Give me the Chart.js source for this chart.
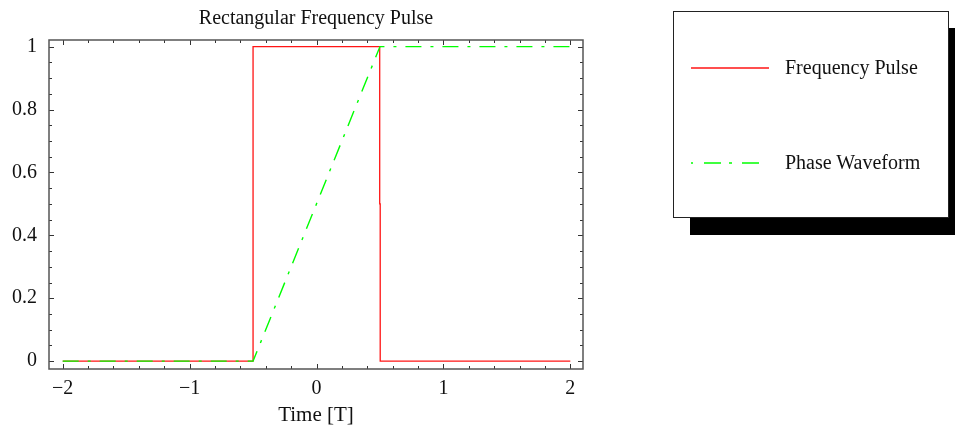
<!DOCTYPE html>
<html>
<head>
<meta charset="utf-8">
<script src="https://cdn.jsdelivr.net/npm/chart.js@4/dist/chart.umd.min.js"></script>
<style>
  html, body { margin: 0; padding: 0; background: #fff; overflow: hidden; }
  #wrap { position: relative; width: 955px; height: 426px; overflow: hidden; }
  #plot { position: absolute; left: 0; top: 0; }
  #legend {
    position: absolute; left: 673px; top: 11px; width: 274px; height: 205px;
    border: 1px solid #222; background: #fff; box-shadow: 17px 17px 0 #000;
  }
  #legend svg { position: absolute; left: 0; top: 0; }
  #legend text { font-family: "Liberation Serif", "DejaVu Serif", serif; font-size: 20px; fill: #111; }
</style>
</head>
<body>
<div id="wrap">
  <canvas id="plot" width="955" height="426"></canvas>
  <div id="legend">
    <svg width="274" height="205">
      <line x1="17" y1="56" x2="95" y2="56" stroke="rgb(255,20,20)" stroke-width="1.3"></line>
      <text x="111" y="62">Frequency Pulse</text>
      <line x1="17" y1="151" x2="95" y2="151" stroke="rgb(0,255,0)" stroke-width="1.5" stroke-dasharray="2 11 17 8 3 10 17 20"></line>
      <text x="111" y="157">Phase Waveform</text>
    </svg>
  </div>
</div>
<script>
// time axis [T]
const pulseT = [-2, -0.5, -0.5, 0.498, 0.498, 0.502, 0.502, 2];
const pulseV = [0, 0, 1, 1, 0.5, 0.5, 0, 0];

const phaseT = [-2, -0.5, 0.5, 2];
const phaseV = [0, 0, 1, 1];

const xLabels = [-2, -1, 0, 1, 2];
const yLabels = [0, 0.2, 0.4, 0.6, 0.8, 1];
const xMinor = [-2, -1.8, -1.6, -1.4, -1.2, -1, -0.8, -0.6, -0.4, -0.2, 0, 0.2, 0.4, 0.6, 0.8, 1, 1.2, 1.4, 1.6, 1.8, 2];
const yMinor = [0, 0.05, 0.1, 0.15, 0.2, 0.25, 0.3, 0.35, 0.4, 0.45, 0.5, 0.55, 0.6, 0.65, 0.7, 0.75, 0.8, 0.85, 0.9, 0.95, 1];

Chart.defaults.font.family = '"Liberation Serif", "DejaVu Serif", serif';
Chart.defaults.color = '#111';

// mathematica style frame with inward ticks on all sides
const frameTicks = {
    id: 'frameTicks',
    afterLayout(chart) {
        // center the title over the plot frame, not the whole canvas
        const t = chart.titleBlock, a = chart.chartArea;
        if (t) { t.left = a.left; t.right = a.right; t.width = a.right - a.left; }
    },
    afterDatasetsDraw(chart) {
        const ctx = chart.ctx;
        const a = chart.chartArea;
        const x = chart.scales.x, y = chart.scales.y;
        ctx.save();
        ctx.strokeStyle = '#333';
        ctx.lineWidth = 1;
        ctx.beginPath();
        xMinor.forEach(v => {
            const px = Math.round(x.getPixelForValue(v)) + 0.5;
            const len = xLabels.includes(v) ? 5 : 3;
            ctx.moveTo(px, a.bottom); ctx.lineTo(px, a.bottom - len);
            ctx.moveTo(px, a.top); ctx.lineTo(px, a.top + len);
        });
        yMinor.forEach(v => {
            const py = Math.round(y.getPixelForValue(v)) + 0.5;
            const len = yLabels.includes(v) ? 5 : 3;
            ctx.moveTo(a.left, py); ctx.lineTo(a.left + len, py);
            ctx.moveTo(a.right, py); ctx.lineTo(a.right - len, py);
        });
        ctx.stroke();
        ctx.strokeStyle = '#555';
        ctx.lineWidth = 1.5;
        ctx.strokeRect(a.left, a.top, a.right - a.left, a.bottom - a.top);
        ctx.restore();
    }
};

const ctx = document.getElementById('plot').getContext('2d');
new Chart(ctx, {
    type: 'line',
    data: {
        datasets: [{
            label: 'Frequency Pulse',
            data: pulseT.map((t, i) => ({x: t, y: pulseV[i]})),
            borderColor: 'rgb(255,20,20)',
            borderWidth: 1.3,
            pointRadius: 0,
            tension: 0,
            order: 2
        }, {
            label: 'Phase Waveform',
            data: phaseT.map((t, i) => ({x: t, y: phaseV[i]})),
            borderColor: 'rgb(0,255,0)',
            borderWidth: 1.4,
            borderDash: [16, 9, 3, 9],
            pointRadius: 0,
            tension: 0,
            order: 1
        }]
    },
    options: {
        responsive: false,
        animation: false,
        devicePixelRatio: 1,
        layout: { padding: { left: 0, top: 0, right: 372, bottom: 0 } },
        plugins: {
            legend: { display: false },
            tooltip: { enabled: false },
            title: {
                display: true,
                text: 'Rectangular Frequency Pulse',
                font: { size: 20, weight: 'normal' },
                padding: { top: 6.3, bottom: 9.7 }
            }
        },
        scales: {
            x: {
                type: 'linear',
                min: -2.108,
                max: 2.1,
                afterBuildTicks: s => { s.ticks = xLabels.map(v => ({value: v})); },
                afterFit: s => { s.height = 57; },
                grid: { display: false, drawTicks: false },
                border: { display: false },
                ticks: {
                    padding: 8,
                    font: { size: 20 },
                    maxRotation: 0,
                    callback: v => String(v).replace('-', '\u2212')
                },
                title: {
                    display: true,
                    text: 'Time [T]',
                    font: { size: 21, lineHeight: 1 },
                    padding: { top: 0, bottom: 0 }
                }
            },
            y: {
                min: -0.025,
                max: 1.021,
                afterBuildTicks: s => { s.ticks = yLabels.map(v => ({value: v})); },
                afterFit: s => { s.width = 49; },
                grid: { display: false, drawTicks: false },
                border: { display: false },
                ticks: {
                    padding: 12,
                    font: { size: 20 },
                    callback: v => String(v)
                }
            }
        }
    },
    plugins: [frameTicks]
});
</script>
</body>
</html>
